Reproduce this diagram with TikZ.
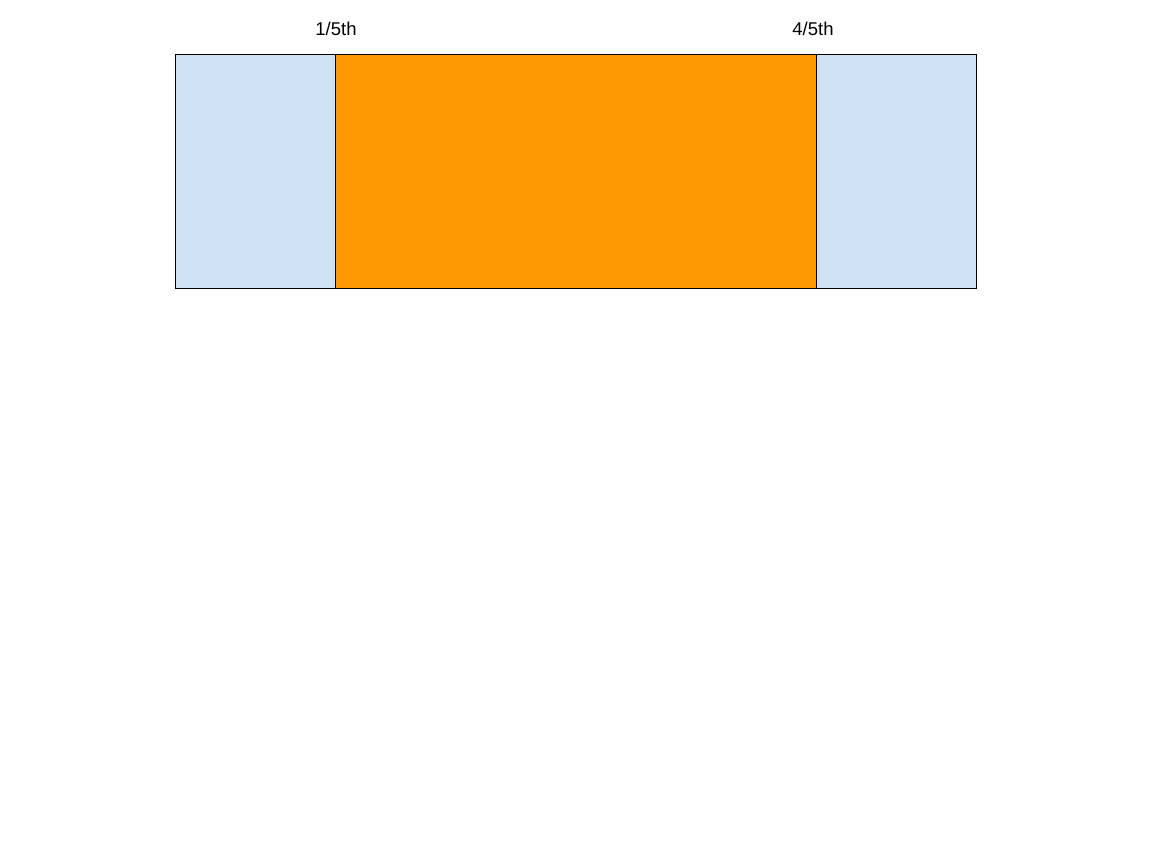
\documentclass[tikz,border=0pt]{standalone}
\usepackage{fontspec}
\setmainfont{Liberation Sans}
\definecolor{lightblue}{HTML}{CFE2F3}
\definecolor{gorange}{HTML}{FF9900}
\begin{document}
\begin{tikzpicture}[x=1pt,y=-1pt,
  seg/.style={draw=black,line width=1pt},
  lbl/.style={inner sep=0pt,anchor=base,font=\fontsize{18.5}{21}\selectfont}]
\useasboundingbox (0,0) rectangle (1152,864);
\fill[white] (0,0) rectangle (1152,864);
\path[seg,fill=lightblue] (175.5,54.5) rectangle (335.5,288.5);
\path[seg,fill=gorange] (335.5,54.5) rectangle (816.5,288.5);
\path[seg,fill=lightblue] (816.5,54.5) rectangle (976.5,288.5);
\node[lbl] (l1) at (336,35.5) {1/5th};
\node[lbl] (l4) at (813,35.5) {4/5th};
\end{tikzpicture}
\end{document}
